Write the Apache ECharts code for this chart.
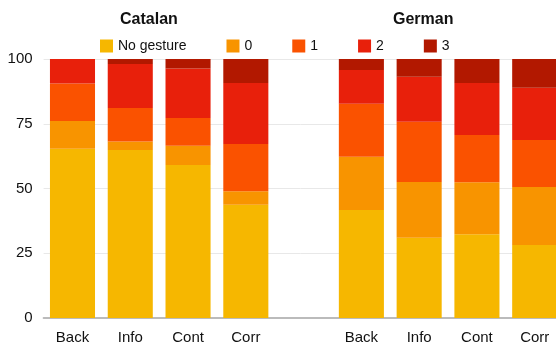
<!DOCTYPE html>
<html>
<head>
<meta charset="utf-8">
<script src="https://cdn.jsdelivr.net/npm/echarts@6/dist/echarts.min.js"></script>
<style>
  html, body { margin: 0; padding: 0; background: #fff; overflow: hidden; }
  #chart { width: 556px; height: 347px; }
</style>
</head>
<body>
<div id="chart"></div>
<script>
// categories: Catalan block, a blank gap slot, German block
var categories = ['Back', 'Info', 'Cont', 'Corr', '', 'Back', 'Info', 'Cont', 'Corr']
var seriesNames = ['No gesture', '0', '1', '2', '3']
var colors = ['#F6B700', '#F89400', '#FA5200', '#E8200B', '#B21800']

// percentages, gap slot is '-'
var noGesture = [65.3, 64.9, 59.1, 43.7, '-', 41.7, 31.0, 32.3, 28.2]
var zero = [10.8, 3.2, 7.4, 5.2, '-', 20.6, 21.5, 20.1, 22.4]
var one = [14.4, 13.0, 10.7, 18.3, '-', 20.4, 23.3, 18.3, 18.1]
var two = [9.5, 17.0, 19.1, 23.5, '-', 13.1, 17.3, 20.0, 20.2]
var three = [0, 1.9, 3.7, 9.3, '-', 4.2, 6.9, 9.3, 11.1]

var font = 'Liberation Sans, Arial, Helvetica, sans-serif'
var allValues = [noGesture, zero, one, two, three]

var series = seriesNames.map(function (name, i) {
  return {
    name: name,
    type: 'bar',
    stack: 'total',
    barCategoryGap: '22%',
    itemStyle: { color: colors[i] },
    data: allValues[i]
  }
})

var myChart = echarts.init(document.getElementById('chart'))
var option = {
  animation: false,
  textStyle: { fontFamily: font },
  title: [
    { text: 'Catalan', left: 115, top: 7,
      textStyle: { fontSize: 16, fontWeight: 'bold', color: '#111', fontFamily: font } },
    { text: 'German', left: 388, top: 7,
      textStyle: { fontSize: 16, fontWeight: 'bold', color: '#111', fontFamily: font } }
  ],
  legend: {
    left: 95,
    top: 34,
    itemWidth: 13,
    itemHeight: 13,
    itemGap: 40,
    icon: 'rect',
    textStyle: { fontSize: 14, color: '#111', fontFamily: font },
    data: seriesNames
  },
  // the plot runs a little past the right edge of the page
  grid: { left: 43.6, width: 520, top: 59, bottom: 29, containLabel: false, outerBoundsMode: 'none' },
  xAxis: {
    type: 'category',
    data: categories,
    axisTick: { show: false },
    axisLine: { lineStyle: { color: '#bbb', width: 2 } },
    axisLabel: { fontSize: 15, color: '#111', margin: 12, interval: 0 }
  },
  yAxis: {
    type: 'value',
    min: 0,
    max: 100,
    interval: 25,
    axisLabel: { fontSize: 15, color: '#111', margin: 11 },
    splitLine: { lineStyle: { color: '#e8e8e8' } }
  },
  series: series
}

myChart.setOption(option)
</script>
</body>
</html>
